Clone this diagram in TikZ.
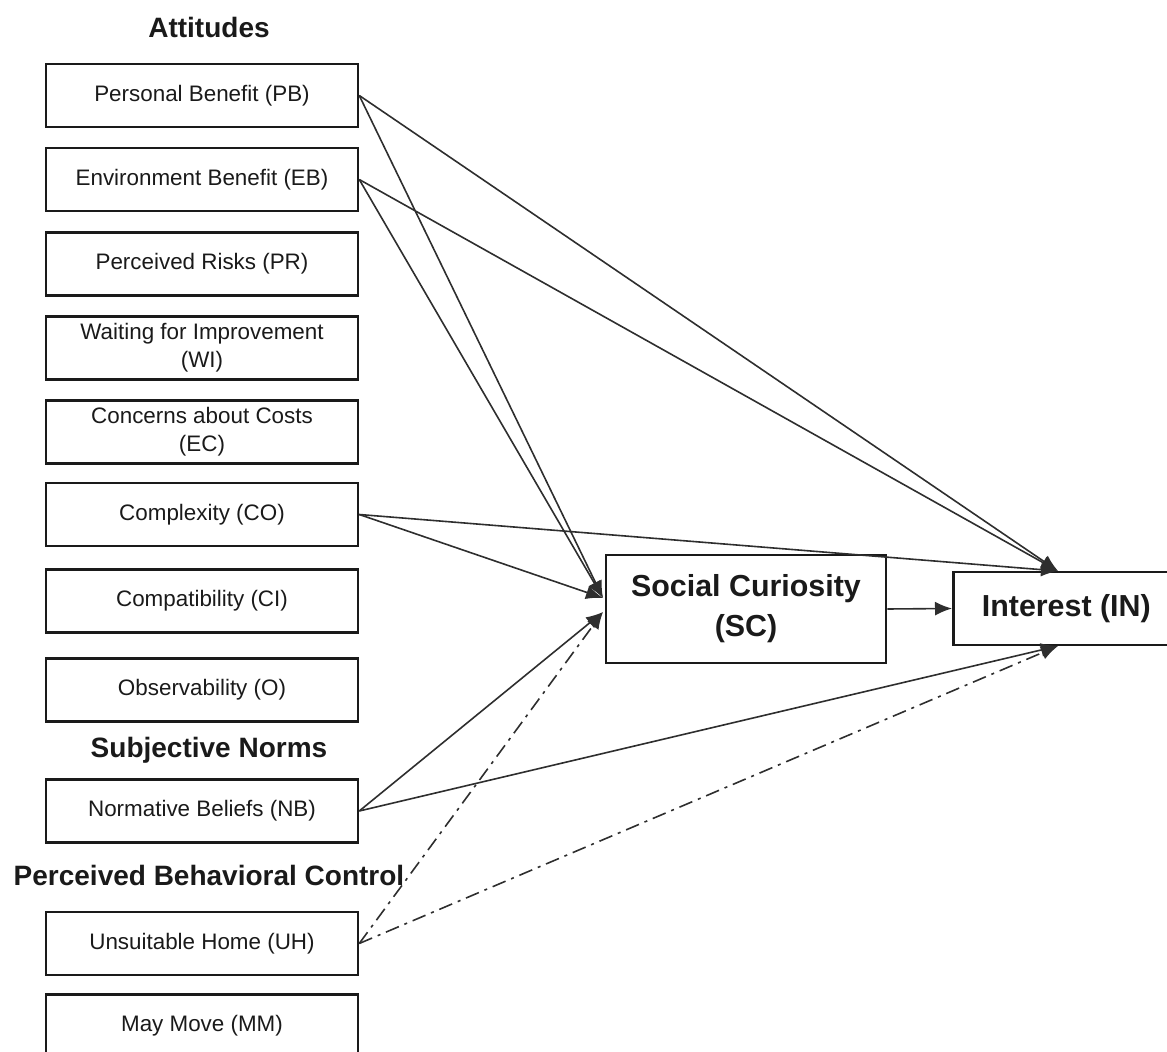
\documentclass[tikz,border=0pt]{standalone}
\usepackage{fontspec}
\setmainfont{Liberation Sans}
\usetikzlibrary{arrows.meta}
\definecolor{ink}{HTML}{1A1A1A}
\definecolor{wire}{HTML}{2E2E2E}
\begin{document}
\begin{tikzpicture}[x=0.5pt,y=-0.5pt,
  box/.style={draw=ink,line width=1.25pt,minimum width=156pt,minimum height=31.5pt,
    inner sep=0pt,align=center,font=\fontsize{11.2}{14}\selectfont,text=ink},
  bigbox/.style={draw=ink,line width=1.3pt,inner sep=0pt,align=center,
    font=\fontsize{15.2}{20}\selectfont\bfseries,text=ink},
  head/.style={font=\fontsize{14}{16}\selectfont\bfseries,text=ink},
  wire/.style={draw=wire,line width=0.8pt,-{Latex[length=8.5pt,width=7pt]}},
  dd/.style={wire,dash pattern=on 7pt off 3pt on 1.5pt off 3pt}]
\useasboundingbox (0,0) rectangle (1167,1052);
\clip (0,0) rectangle (1167,1052);
\node[head] (hatt) at (209,28) {Attitudes};
\node[box] (PB) at (202,95.5) {Personal Benefit (PB)};
\node[box] (EB) at (202,179.5) {Environment Benefit (EB)};
\node[box] (PR) at (202,264) {Perceived Risks (PR)};
\node[box] (WI) at (202,348) {Waiting for Improvement\\(WI)};
\node[box] (EC) at (202,432) {Concerns about Costs\\(EC)};
\node[box] (CO) at (202,514.5) {Complexity (CO)};
\node[box] (CI) at (202,601) {Compatibility (CI)};
\node[box] (O) at (202,690) {Observability (O)};
\node[head] (hsn) at (209,750) {Subjective Norms};
\node[box] (NB) at (202,811) {Normative Beliefs (NB)};
\node[head] (hpbc) at (209,875) {Perceived Behavioral Control};
\node[box] (UH) at (202,943.5) {Unsuitable Home (UH)};
\node[box] (MM) at (202,1026) {May Move (MM)};
\node[bigbox,minimum width=140pt,minimum height=54pt] (SC) at (746,609) {Social Curiosity\\(SC)};
\node[bigbox,minimum width=113pt,minimum height=36.5pt,anchor=west] (IN) at (952,608.5) {Interest (IN)};
\coordinate (sctop) at (603,598);
\coordinate (scbot) at (603,612);
\coordinate (intop) at (1058,571);
\coordinate (inbot) at (1058,646);
\draw[wire] (PB.east) -- (intop);
\draw[wire] (PB.east) -- (sctop);
\draw[wire] (EB.east) -- (intop);
\draw[wire] (EB.east) -- (sctop);
\draw[wire] (CO.east) -- (intop);
\draw[wire] (CO.east) -- (sctop);
\draw[wire] (NB.east) -- (scbot);
\draw[wire] (NB.east) -- (inbot);
\draw[dd] (UH.east) -- (scbot);
\draw[dd] (UH.east) -- (inbot);
\draw[wire] (SC.east) -- (IN.west);
\end{tikzpicture}
\end{document}
